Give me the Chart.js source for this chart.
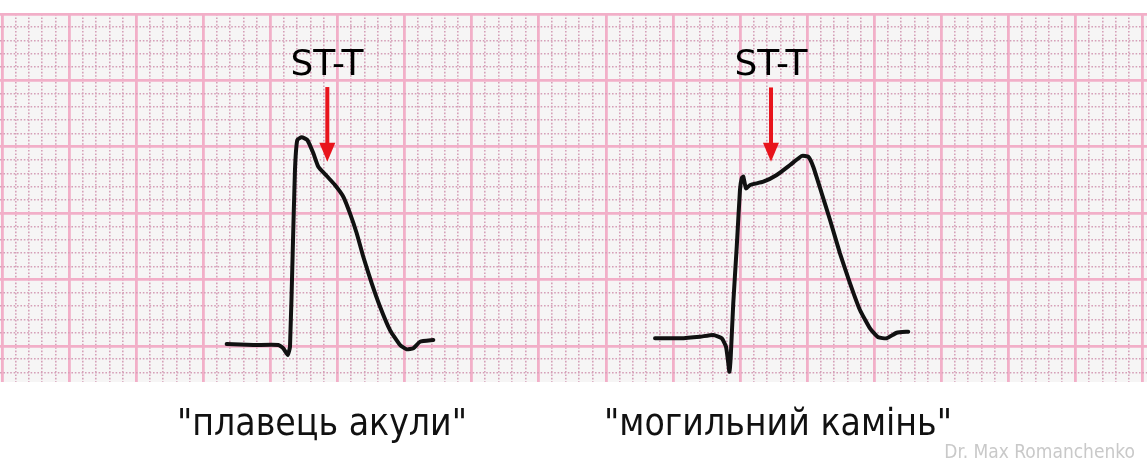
<!DOCTYPE html>
<html>
<head>
<meta charset="utf-8">
<script src="https://cdn.jsdelivr.net/npm/chart.js@4"></script>
<style>
  body { margin: 0; background: #fff; }
  #wrap { position: relative; width: 1147px; height: 472px; overflow: hidden; }
  #ecg { position: absolute; left: 0; top: 0; }
  .lbl { position: absolute; text-align: center; color: #000; font-family: "DejaVu Sans Condensed", "DejaVu Sans", sans-serif; line-height: 1; white-space: nowrap; }
  .st { font-family: "DejaVu Sans", sans-serif; font-size: 36px; width: 140px; top: 45px; }
  .cap { font-size: 37px; width: 420px; top: 404px; color: #111; }
  .mark { position: absolute; right: 12px; top: 442px; font-size: 19px; color: #c9c9c9; font-family: "DejaVu Sans Condensed", "DejaVu Sans", sans-serif; line-height: 1; }
</style>
</head>
<body>
<div id="wrap">
  <canvas id="ecg" width="1147" height="472"></canvas>
  <div class="lbl st" style="left:257px">ST-T</div>
  <div class="lbl st" style="left:701px">ST-T</div>
  <div class="lbl cap" style="left:112px">"плавець акули"</div>
  <div class="lbl cap" style="left:568px">"могильний камінь"</div>
  <div class="mark">Dr. Max Romanchenko</div>
</div>
<script>
// ECG paper units: 1 small square = 1 mm, big square = 5 mm
const xRange = [-0.15, 85.32];
const yRange = [-2.71, 25];
const majorStep = 5;

// "shark fin" complex
const sharkX = [16.74, 18.73, 20.59, 20.96, 21.29, 21.46, 21.66, 21.83, 22.00, 22.33, 22.75, 23.20, 23.57,
  24.20, 24.81, 25.43, 25.93, 26.43, 26.92, 27.55, 28.17, 28.91, 29.66, 30.16, 30.65, 31.15, 32.14];
const sharkY = [0.15, 0.08, 0.08, -0.17, -0.68, -0.05, 7.00, 13.25, 15.51, 15.72, 15.51, 14.51, 13.50,
  12.80, 12.12, 11.24, 9.99, 8.49, 6.72, 4.72, 2.96, 1.20, 0.08, -0.25, -0.17, 0.32, 0.45];

// "tombstone" complex
const tombX = [48.66, 50.52, 52.01, 53.00, 53.63, 53.95, 54.12, 54.20, 54.30, 54.49, 54.75, 54.99, 55.12,
  55.24, 55.44, 55.74, 56.73, 57.73, 58.72, 59.59, 60.08, 60.45, 61.08, 61.70, 62.44, 63.19, 63.93,
  64.68, 65.30, 65.92, 66.67, 67.53];
const tombY = [0.58, 0.58, 0.70, 0.83, 0.58, -0.05, -1.30, -1.94, -0.81, 3.22, 7.48, 11.75, 12.63,
  12.75, 11.87, 12.12, 12.37, 12.88, 13.63, 14.31, 14.25, 13.50, 11.50, 9.49, 6.98, 4.72, 2.71,
  1.33, 0.66, 0.58, 1.00, 1.08];

// ST-T pointer arrows (x, from y, to y)
const arrowX = [24.24, 57.30];
const arrowTop = [19.50, 19.47];
const arrowTip = [13.88, 13.88];

const toPoints = (xs, ys) => xs.map((x, i) => ({ x, y: ys[i] }));

function mmTicks(scale) {
  const t = [];
  for (let v = Math.ceil(scale.min); v <= Math.floor(scale.max); v++) t.push({ value: v });
  scale.ticks = t;
}

const isMajor = ctx => ctx.tick && Math.abs(ctx.tick.value % majorStep) < 1e-6;

function paperAxis(range) {
  return {
    type: "linear",
    min: range[0],
    max: range[1],
    afterBuildTicks: mmTicks,
    ticks: { display: false },
    grid: {
      drawTicks: false,
      color: ctx => isMajor(ctx) ? "#f2afc8" : "#d5a0b8",
      lineWidth: ctx => isMajor(ctx) ? 2.8 : 1.6
    },
    border: {
      display: false,
      dash: ctx => isMajor(ctx) ? [] : [1.6, 1.8]
    }
  };
}

const paper = {
  id: "paper",
  beforeDraw(chart) {
    const { ctx, chartArea: a } = chart;
    ctx.save();
    ctx.fillStyle = "#f6f5f5";
    ctx.fillRect(a.left, a.top, a.right - a.left, a.bottom - a.top);
    ctx.restore();
  },
  afterDatasetsDraw(chart) {
    const { ctx, scales: { x, y } } = chart;
    ctx.save();
    ctx.fillStyle = "#e8141c";
    ctx.strokeStyle = "#e8141c";
    arrowX.forEach((ax, i) => {
      const px = x.getPixelForValue(ax);
      const top = y.getPixelForValue(arrowTop[i]);
      const tip = y.getPixelForValue(arrowTip[i]);
      ctx.lineWidth = 4;
      ctx.beginPath();
      ctx.moveTo(px, top);
      ctx.lineTo(px, tip - 16);
      ctx.stroke();
      ctx.beginPath();
      ctx.moveTo(px - 8, tip - 19);
      ctx.lineTo(px + 8, tip - 19);
      ctx.lineTo(px, tip);
      ctx.closePath();
      ctx.fill();
    });
    ctx.restore();
  }
};

const trace = {
  borderColor: "#111",
  borderWidth: 4,
  pointRadius: 0,
  tension: 0.15,
  borderCapStyle: "round",
  borderJoinStyle: "round",
  fill: false
};

new Chart(document.getElementById("ecg"), {
  type: "line",
  data: {
    datasets: [
      { ...trace, label: "плавець акули", data: toPoints(sharkX, sharkY) },
      { ...trace, label: "могильний камінь", data: toPoints(tombX, tombY) }
    ]
  },
  options: {
    responsive: false,
    animation: false,
    events: [],
    layout: { padding: { top: 14, bottom: 90, left: 0, right: 0 } },
    plugins: { legend: { display: false }, tooltip: { enabled: false } },
    scales: { x: paperAxis(xRange), y: paperAxis(yRange) }
  },
  plugins: [paper]
});
</script>
</body>
</html>
